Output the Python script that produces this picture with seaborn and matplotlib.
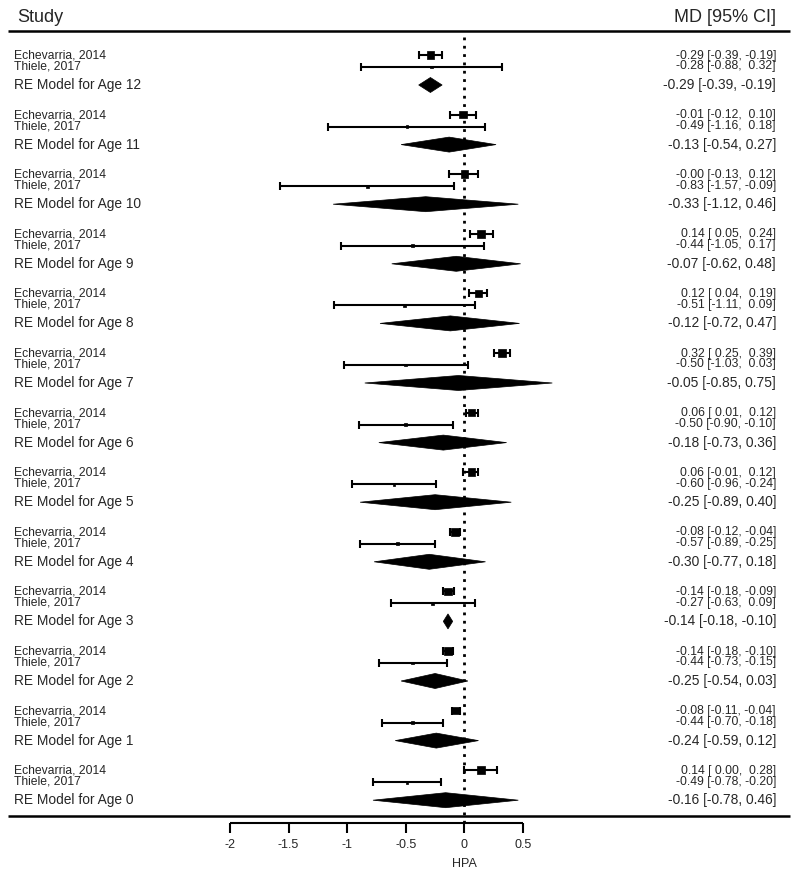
import numpy as np
import pandas as pd
import matplotlib
matplotlib.use("Agg")
import matplotlib.pyplot as plt
from matplotlib.patches import Polygon
import seaborn as sns

# Werte (Alter 12 oben bis Alter 0 unten)
ages = [12, 11, 10, 9, 8, 7, 6, 5, 4, 3, 2, 1, 0]
studies = ["Echevarria, 2014", "Thiele, 2017"]

echev_md = [-0.29, -0.01, -0.00, 0.14, 0.12, 0.32, 0.06, 0.06, -0.08, -0.14, -0.14, -0.08, 0.14]
echev_lo = [-0.39, -0.12, -0.13, 0.05, 0.04, 0.25, 0.01, -0.01, -0.12, -0.18, -0.18, -0.11, 0.00]
echev_hi = [-0.19, 0.10, 0.12, 0.24, 0.19, 0.39, 0.12, 0.12, -0.04, -0.09, -0.10, -0.04, 0.28]

thiele_md = [-0.28, -0.49, -0.83, -0.44, -0.51, -0.50, -0.50, -0.60, -0.57, -0.27, -0.44, -0.44, -0.49]
thiele_lo = [-0.88, -1.16, -1.57, -1.05, -1.11, -1.03, -0.90, -0.96, -0.89, -0.63, -0.73, -0.70, -0.78]
thiele_hi = [0.32, 0.18, -0.09, 0.17, 0.09, 0.03, -0.10, -0.24, -0.25, 0.09, -0.15, -0.18, -0.20]

re_md = [-0.29, -0.13, -0.33, -0.07, -0.12, -0.05, -0.18, -0.25, -0.30, -0.14, -0.25, -0.24, -0.16]
re_lo = [-0.39, -0.54, -1.12, -0.62, -0.72, -0.85, -0.73, -0.89, -0.77, -0.18, -0.54, -0.59, -0.78]
re_hi = [-0.19, 0.27, 0.46, 0.48, 0.47, 0.75, 0.36, 0.40, 0.18, -0.10, 0.03, 0.12, 0.46]

xticks = [-2, -1.5, -1, -0.5, 0, 0.5]
xlabel = "HPA"

# Layout (Pixel-Raster, y nach unten)
W, H = 798, 875
px_per_unit = 117.2
x_at_m2 = 230
x_left = -2 - x_at_m2 / px_per_unit
x_right = x_left + W / px_per_unit
group_top = 55
group_step = 59.6


def px(xpix):
    return x_left + xpix / px_per_unit


sns.set_theme(style="white")
plt.rcParams["font.family"] = ["Liberation Sans", "DejaVu Sans"]

fig = plt.figure(figsize=(W / 100, H / 100), dpi=100)
ax = fig.add_axes([0, 0, 1, 1])
ax.set_xlim(x_left, x_right)
ax.set_ylim(H, 0)
ax.axis("off")

rows = []
for i, age in enumerate(ages):
    y0 = group_top + i * group_step
    rows.append((studies[0], y0, echev_md[i], echev_lo[i], echev_hi[i], 26))
    rows.append((studies[1], y0 + 12, thiele_md[i], thiele_lo[i], thiele_hi[i], 3))
df = pd.DataFrame(rows, columns=["study", "y", "md", "lo", "hi", "size"])

# Konfidenzintervalle
ax.hlines(df["y"], df["lo"], df["hi"], color="black", lw=1.5)
ax.vlines(df["lo"], df["y"] - 4, df["y"] + 4, color="black", lw=1.5)
ax.vlines(df["hi"], df["y"] - 4, df["y"] + 4, color="black", lw=1.5)
sns.scatterplot(data=df, x="md", y="y", size="size", sizes=(4, 30), marker="s",
                color="black", edgecolor="black", linewidth=0.5, legend=False, ax=ax)

# Nulllinie
ax.vlines(0, 37, 825, color="black", lw=2, linestyles=(0, (1, 2)))

fs_study = 8.7
fs_re = 9.9
right_x = px(776)
left_x = px(14)

for i, age in enumerate(ages):
    y0 = group_top + i * group_step
    yr = y0 + 30
    diamond = Polygon([(re_lo[i], yr), (re_md[i], yr - 7.5), (re_hi[i], yr), (re_md[i], yr + 7.5)],
                      closed=True, facecolor="black", edgecolor="black", lw=0.5)
    ax.add_patch(diamond)

    ax.text(left_x, y0 + 0.5, studies[0], fontsize=fs_study, va="center", ha="left")
    ax.text(left_x, y0 + 11.5, studies[1], fontsize=fs_study, va="center", ha="left")
    ax.text(left_x, yr, f"RE Model for Age {age}", fontsize=fs_re, va="center", ha="left")

    s1 = f"{echev_md[i]:.2f} [{echev_lo[i]:5.2f}, {echev_hi[i]:5.2f}]"
    s2 = f"{thiele_md[i]:.2f} [{thiele_lo[i]:5.2f}, {thiele_hi[i]:5.2f}]"
    s3 = f"{re_md[i]:.2f} [{re_lo[i]:.2f}, {re_hi[i]:.2f}]"
    ax.text(right_x, y0 + 0.5, s1, fontsize=fs_study, va="center", ha="right")
    ax.text(right_x, y0 + 11.5, s2, fontsize=fs_study, va="center", ha="right")
    ax.text(right_x, yr, s3, fontsize=fs_re, va="center", ha="right")

# Kopfzeile und Trennlinien
ax.text(px(17), 17, "Study", fontsize=13, va="center", ha="left")
ax.text(right_x, 17, "MD [95% CI]", fontsize=13, va="center", ha="right")
ax.hlines([31, 816], px(8), px(790), color="black", lw=1.8)

# x-Achse
ax.hlines(823, xticks[0], xticks[-1], color="black", lw=1.5)
ax.vlines(xticks, 823, 833, color="black", lw=1.5)
for t in xticks:
    ax.text(t, 845, f"{t:g}", fontsize=9, va="center", ha="center")
ax.text(np.mean([xticks[0], xticks[-1]]) + 0.75, 864, xlabel, fontsize=9, va="center", ha="center")

fig.savefig("out.png", dpi=100, facecolor="white")
